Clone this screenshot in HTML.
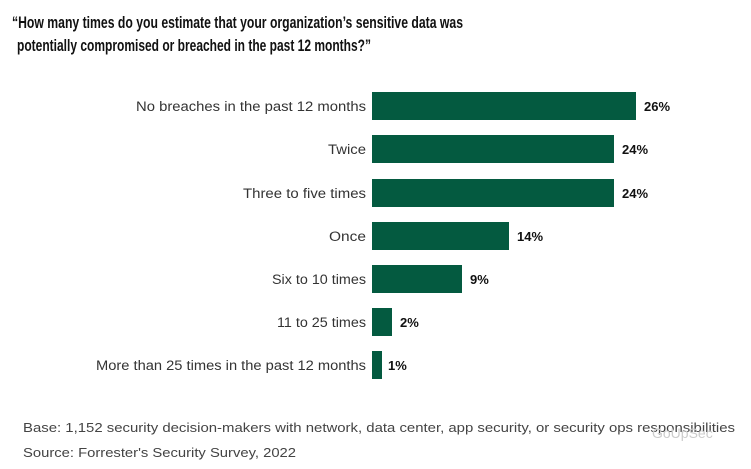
<!DOCTYPE html>
<html><head><meta charset="utf-8"><style>
html,body{margin:0;padding:0;background:#fff;}
svg{display:block;}
text{font-family:"Liberation Sans",sans-serif;}
</style></head><body>
<svg width="751" height="469" viewBox="0 0 751 469" xmlns="http://www.w3.org/2000/svg">
<g font-weight="bold" font-size="17" fill="#111">
<text x="12" y="28" textLength="451" lengthAdjust="spacingAndGlyphs">“How many times do you estimate that your organization’s sensitive data was</text>
<text x="17" y="51" textLength="354" lengthAdjust="spacingAndGlyphs">potentially compromised or breached in the past 12 months?”</text>
</g>
<g fill="#045a40">
<rect x="372" y="92" width="264" height="28"/>
<rect x="372" y="135" width="242" height="28"/>
<rect x="372" y="179" width="242" height="28"/>
<rect x="372" y="222" width="137" height="28"/>
<rect x="372" y="265" width="90" height="28"/>
<rect x="372" y="308" width="20" height="28"/>
<rect x="372" y="351" width="10" height="28"/>
</g>
<g font-size="13.5" fill="#333" text-anchor="end">
<text x="366" y="111" textLength="230" lengthAdjust="spacingAndGlyphs">No breaches in the past 12 months</text>
<text x="366" y="154" textLength="38" lengthAdjust="spacingAndGlyphs">Twice</text>
<text x="366" y="198" textLength="123" lengthAdjust="spacingAndGlyphs">Three to five times</text>
<text x="366" y="241" textLength="37" lengthAdjust="spacingAndGlyphs">Once</text>
<text x="366" y="284" textLength="94" lengthAdjust="spacingAndGlyphs">Six to 10 times</text>
<text x="366" y="327" textLength="89" lengthAdjust="spacingAndGlyphs">11 to 25 times</text>
<text x="366" y="370" textLength="270" lengthAdjust="spacingAndGlyphs">More than 25 times in the past 12 months</text>
</g>
<g font-size="13" font-weight="bold" fill="#111">
<text x="644" y="111">26%</text>
<text x="622" y="154">24%</text>
<text x="622" y="198">24%</text>
<text x="517" y="241">14%</text>
<text x="470" y="284">9%</text>
<text x="400" y="327">2%</text>
<text x="388" y="370">1%</text>
</g>
<g font-size="13" fill="#444">
<text x="23" y="432" textLength="712" lengthAdjust="spacingAndGlyphs">Base: 1,152 security decision-makers with network, data center, app security, or security ops responsibilities</text>
<text x="23" y="457" textLength="273" lengthAdjust="spacingAndGlyphs">Source: Forrester's Security Survey, 2022</text>
</g>
<text x="652" y="438" font-size="14" fill="#ccc">GoUpSec</text>
</svg>
</body></html>
